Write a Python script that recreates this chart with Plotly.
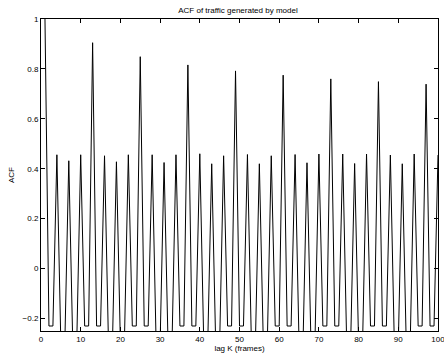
import plotly.graph_objects as go

# lag index (MATLAB-style, starting at 1)
lags = list(range(1, 101))

# ACF values (lags 1..100)
acf = [
    1.000, -0.23, -0.23, 0.456, -0.30, -0.30, 0.432, -0.30, -0.30, 0.456, -0.23, -0.23,
    0.905, -0.23, -0.23, 0.452, -0.30, -0.30, 0.428, -0.30, -0.30, 0.456, -0.23, -0.23,
    0.849, -0.23, -0.23, 0.456, -0.30, -0.30, 0.425, -0.30, -0.30, 0.456, -0.23, -0.23,
    0.816, -0.23, -0.23, 0.460, -0.30, -0.30, 0.420, -0.30, -0.30, 0.452, -0.23, -0.23,
    0.792, -0.23, -0.23, 0.457, -0.30, -0.30, 0.420, -0.30, -0.30, 0.452, -0.23, -0.23,
    0.775, -0.23, -0.23, 0.457, -0.30, -0.30, 0.424, -0.30, -0.30, 0.459, -0.23, -0.23,
    0.760, -0.23, -0.23, 0.459, -0.30, -0.30, 0.421, -0.30, -0.30, 0.459, -0.23, -0.23,
    0.749, -0.23, -0.23, 0.455, -0.30, -0.30, 0.420, -0.30, -0.30, 0.459, -0.23, -0.23,
    0.739, -0.23, -0.23, 0.455,
]

x_ticks = [0, 10, 20, 30, 40, 50, 60, 70, 80, 90, 100]
y_ticks = [-0.2, 0, 0.2, 0.4, 0.6, 0.8, 1]
y_tick_labels = ["\u22120.2", "0", "0.2", "0.4", "0.6", "0.8", "1"]

font = dict(family="Liberation Sans, Arial, sans-serif", size=8, color="black")

fig = go.Figure(
    go.Scatter(x=lags, y=acf, mode="lines",
               line=dict(color="black", width=1), hoverinfo="skip")
)

axis_common = dict(
    showline=True, linecolor="black", linewidth=1, mirror="ticks",
    ticks="inside", ticklen=4, tickcolor="black", tickwidth=1,
    showgrid=False, zeroline=False, tickfont=font, automargin=False,
    ticklabeloverflow="allow",
)

fig.update_layout(
    width=444, height=358,
    margin=dict(l=41, r=6, t=19, b=27),
    paper_bgcolor="white", plot_bgcolor="white",
    showlegend=False,
    font=font,
    title=dict(text="ACF of traffic generated by model", x=0.536, xanchor="center",
               y=0.972, yanchor="middle", font=dict(size=8, family=font["family"])),
    xaxis=dict(range=[0, 100], tickvals=x_ticks,
               title=dict(text="lag K (frames)", standoff=2, font=font), **axis_common),
    yaxis=dict(range=[-0.25, 1], tickvals=y_ticks, ticktext=y_tick_labels,
               title=dict(text="ACF", standoff=6, font=font), **axis_common),
)

fig.write_html("out.html", config={"displayModeBar": False},
               post_script="document.body.style.margin='0';document.body.style.overflow='hidden';")
